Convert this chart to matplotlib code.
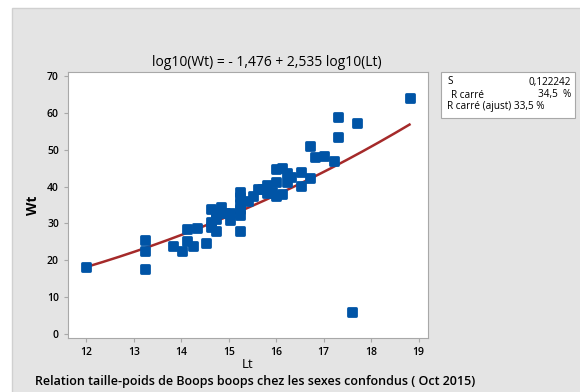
import numpy as np
import matplotlib
matplotlib.use("Agg")
import matplotlib.pyplot as plt
from matplotlib.patches import Rectangle
from matplotlib.markers import MarkerStyle

plt.rcParams['font.family'] = ['Open Sans', 'DejaVu Sans']

lt = [12.0, 13.23, 13.23, 13.23, 13.83, 14.02, 14.12, 14.12, 14.24, 14.32,
      14.52, 14.62, 14.62, 14.62, 14.72, 14.72, 14.72, 14.83, 14.92, 15.02,
      15.02, 15.23, 15.23, 15.23, 15.23, 15.23, 15.23, 15.41, 15.51, 15.61,
      15.7, 15.81, 15.81, 15.92, 16.0, 16.0, 16.0, 16.13, 16.13, 16.23,
      16.23, 16.32, 16.52, 16.52, 16.71, 16.71, 16.82, 17.01, 17.22, 17.31,
      17.31, 17.71, 17.6, 18.81]
wt = [18.1, 25.5, 22.5, 17.6, 24.0, 22.5, 28.5, 25.2, 24.0, 28.8,
      24.8, 33.8, 30.5, 29.1, 32.9, 31.1, 28.0, 34.5, 32.7, 32.7,
      30.9, 38.4, 37.3, 35.2, 33.8, 32.3, 27.9, 36.1, 37.5, 39.3,
      39.3, 40.4, 38.3, 38.6, 37.5, 41.3, 44.7, 45.0, 38.0, 43.6,
      41.3, 42.7, 43.9, 40.2, 51.0, 42.2, 47.9, 48.4, 47.0, 58.8,
      53.4, 57.2, 6.0, 64.0]
intercept = -1.476
slope = 2.535
x_ticks = [12, 13, 14, 15, 16, 17, 18, 19]
y_ticks = [0, 10, 20, 30, 40, 50, 60, 70]

W, H = 580, 392
fig = plt.figure(figsize=(W/100, H/100), dpi=100)
fig.patch.set_facecolor('white')
fig.patches.append(Rectangle((12/W, -0.01), 1 - 12/W + 0.01, 1 - 8/H + 0.01, transform=fig.transFigure,
                             facecolor='#e4e4e4', edgecolor='#d0d0d0', lw=1, zorder=-10))

ax = fig.add_axes([68/W, 1 - 338/H, (428-68)/W, (338-72)/H])
ax.set_zorder(2)
ax.set_facecolor('white')

xs = np.linspace(min(lt), max(lt), 200)
ys = 10 ** (intercept + slope * np.log10(xs))
ax.plot(xs, ys, color='#a52a2a', lw=1.8, zorder=2)

ms = MarkerStyle('s', joinstyle='round')
ax.scatter(lt, wt, marker=ms, s=26, color='#0054a6', edgecolors='#0054a6',
           linewidths=2.0, zorder=3)

ax.set_xlim(11.61, 19.2)
ax.set_ylim(-1.1, 71.1)
ax.set_xticks(x_ticks)
ax.set_yticks(y_ticks)
ax.set_xticklabels([str(v) for v in x_ticks], fontweight='semibold')
ax.set_yticklabels([str(v) for v in y_ticks], fontweight='semibold')
for s in ax.spines.values():
    s.set_color('#a8a8a8')
ax.tick_params(colors='#a8a8a8', labelcolor='black', labelsize=7.5, length=3, width=0.8)
ax.set_xlabel('Lt', fontsize=9.5)
ax.xaxis.set_label_coords(0.5, -(358 - 338) / (338 - 72))
ax.set_ylabel('Wt', fontsize=10, fontweight='bold')
ax.yaxis.set_label_coords(-(68 - 40) / (428 - 68), 0.5)

fig.text(267/W, 1 - 63/H, 'log10(Wt) = - 1,476 + 2,535 log10(Lt)', ha='center', va='center',
         fontsize=10)

# summary box
fig.patches.append(Rectangle((441/W, 1 - 118/H), (575-441)/W, (118-72)/H, transform=fig.transFigure,
                             facecolor='white', edgecolor='#a8a8a8', lw=0.8, zorder=1))
fs = 7.2
fig.text(447/W, 1 - 82/H, 'S', fontsize=fs, va='center', ha='left', zorder=4)
fig.text(571/W, 1 - 82/H, '0,122242', fontsize=fs, va='center', ha='right', zorder=4)
fig.text(451/W, 1 - 95/H, 'R carré', fontsize=fs, va='center', ha='left', zorder=4)
fig.text(571/W, 1 - 95/H, '34,5  %', fontsize=fs, va='center', ha='right', zorder=4)
fig.text(447/W, 1 - 107/H, 'R carré (ajust) 33,5 %', fontsize=fs, va='center', ha='left', zorder=4)

fig.text(255/W, 1 - 381/H, 'Relation taille-poids de Boops boops chez les sexes confondus ( Oct 2015)',
         ha='center', va='center', fontsize=9, fontweight='semibold')

fig.savefig('out.png', dpi=100)
